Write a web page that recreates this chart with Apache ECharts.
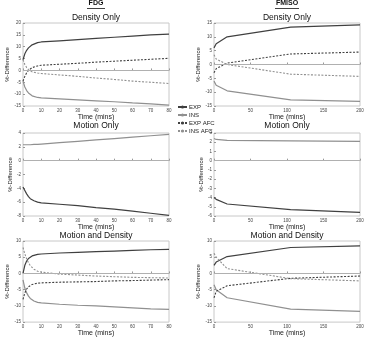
<!DOCTYPE html>
<html>
<head>
<meta charset="utf-8">
<script src="https://cdn.jsdelivr.net/npm/echarts@6/dist/echarts.min.js"></script>
<style>
  html, body { margin: 0; padding: 0; background: #fff; }
  #root { width: 367px; height: 338px; }
</style>
</head>
<body>
<div id="root"></div>
<script>
// time points
const fdgTime = [0, 1, 2, 3, 4, 5, 6, 8, 10, 20, 30, 40, 50, 60, 70, 80];
const fmisoTime = [0, 3, 18, 105, 200];

const legendNames = ['EXP', 'INS', 'EXP AFC', 'INS AFC'];
const panelTitles = ['Density Only', 'Motion Only', 'Motion and Density'];

// FDG - density only
const fdgDenExp = [4.5, 7, 8.5, 9.5, 10.3, 10.8, 11.2, 11.7, 12, 12.5, 13, 13.5, 14, 14.5, 15, 15.3];
const fdgDenIns = [-4.5, -7, -8.5, -9.5, -10.2, -10.7, -11, -11.4, -11.6, -12, -12.4, -12.8, -13.2, -13.7, -14.1, -14.6];
const fdgDenExpAfc = [-4.5, -2.5, -1, 0, 0.8, 1.2, 1.5, 1.9, 2.2, 2.6, 3.0, 3.5, 3.9, 4.3, 4.7, 5.1];
const fdgDenInsAfc = [4.5, 2.5, 1.2, 0.3, -0.3, -0.6, -0.8, -1.1, -1.3, -1.9, -2.5, -3.2, -3.8, -4.5, -5.0, -5.5];

// FDG - motion only
const fdgMotExp = [-3.8, -4.3, -4.8, -5.2, -5.5, -5.7, -5.8, -6.0, -6.1, -6.3, -6.5, -6.8, -7.0, -7.3, -7.6, -7.9];
const fdgMotIns = [2.3, 2.3, 2.3, 2.3, 2.3, 2.35, 2.35, 2.35, 2.4, 2.6, 2.8, 3.0, 3.2, 3.4, 3.6, 3.8];

// FDG - motion and density
const fdgBothExp = [0, 2.5, 3.8, 4.6, 5.1, 5.4, 5.6, 5.9, 6.0, 6.3, 6.5, 6.7, 6.9, 7.1, 7.3, 7.4];
const fdgBothIns = [-2, -4.5, -6, -7, -7.7, -8.2, -8.5, -8.9, -9.1, -9.5, -9.8, -10.0, -10.3, -10.6, -10.9, -11.1];
const fdgBothExpAfc = [-8, -6, -4.8, -4.1, -3.7, -3.4, -3.2, -3.0, -2.9, -2.7, -2.6, -2.5, -2.3, -2.2, -2.05, -1.9];
const fdgBothInsAfc = [8, 6, 4.5, 3.3, 2.4, 1.8, 1.3, 0.7, 0.4, -0.2, -0.5, -0.8, -1.0, -1.2, -1.3, -1.4];

// FMISO - density only
const fmDenExp = [6, 7.5, 10, 13.5, 14.3];
const fmDenIns = [-6, -7.5, -9.5, -12.8, -13.3];
const fmDenExpAfc = [-3, -1.5, 0.5, 3.8, 4.5];
const fmDenInsAfc = [3.5, 2, 0, -3.5, -4.3];

// FMISO - motion only
const fmMotExp = [-4.0, -4.2, -4.7, -5.3, -5.6];
const fmMotIns = [2.4, 2.3, 2.2, 2.15, 2.1];

// FMISO - motion and density
const fmBothExp = [2.5, 3.5, 5.2, 8, 8.5];
const fmBothIns = [-3.5, -5, -7.5, -11, -11.7];
const fmBothExpAfc = [-7.5, -5.5, -3.8, -1.5, -0.8];
const fmBothInsAfc = [6.2, 5, 1.5, -1.6, -2.3];

const yRanges = [
  [-15, 20, 5], [-15, 15, 5],
  [-8, 4, 2], [-6, 3, 1],
  [-15, 10, 5], [-15, 10, 5]
];

const EXP_COLOR = '#404040';
const INS_COLOR = '#909090';
const FONT = 'Liberation Sans, Arial, sans-serif';

let pair = (time, vals) => time.map((t, i) => [t, vals[i]]);

const panels = [
  { t: fdgTime, exp: fdgDenExp, ins: fdgDenIns, expAfc: fdgDenExpAfc, insAfc: fdgDenInsAfc },
  { t: fmisoTime, exp: fmDenExp, ins: fmDenIns, expAfc: fmDenExpAfc, insAfc: fmDenInsAfc },
  { t: fdgTime, exp: fdgMotExp, ins: fdgMotIns },
  { t: fmisoTime, exp: fmMotExp, ins: fmMotIns },
  { t: fdgTime, exp: fdgBothExp, ins: fdgBothIns, expAfc: fdgBothExpAfc, insAfc: fdgBothInsAfc },
  { t: fmisoTime, exp: fmBothExp, ins: fmBothIns, expAfc: fmBothExpAfc, insAfc: fmBothInsAfc }
];

const rowTops = [23, 133, 241];
const titleTops = [13, 121, 231];
const colLefts = [23, 214];

let grids = [], xAxes = [], yAxes = [], series = [], titles = [];

panels.forEach((p, i) => {
  let row = Math.floor(i / 2), col = i % 2;
  grids.push({
    left: colLefts[col], top: rowTops[row], width: 146, height: 83,
    show: true, borderColor: '#c8c8c8', borderWidth: 1
  });
  xAxes.push({
    type: 'value', gridIndex: i, min: 0, max: col === 0 ? 80 : 200, interval: col === 0 ? 10 : 50,
    name: 'Time (mins)', nameLocation: 'middle', nameGap: 7,
    nameTextStyle: { fontSize: 7, fontFamily: FONT, color: '#222' },
    axisLine: { show: false },
    axisTick: { show: true, inside: true, length: 2, lineStyle: { color: '#999' } },
    axisLabel: { fontSize: 4.5, margin: 2, color: '#444', fontFamily: FONT },
    splitLine: { show: false }
  });
  let yr = yRanges[i];
  yAxes.push({
    type: 'value', gridIndex: i, min: yr[0], max: yr[1], interval: yr[2],
    name: '%-Difference', nameLocation: 'middle', nameGap: 5,
    nameTextStyle: { fontSize: 6, fontFamily: FONT, color: '#222' },
    axisLine: { show: false },
    axisTick: { show: true, inside: true, length: 2, lineStyle: { color: '#999' } },
    axisLabel: { fontSize: 4.5, margin: 2, color: '#444', fontFamily: FONT },
    splitLine: { show: false }
  });
  titles.push({
    text: panelTitles[row], left: colLefts[col] + 73, top: titleTops[row], textAlign: 'center', padding: 0,
    textStyle: { fontSize: 8.5, fontWeight: 'normal', color: '#111', fontFamily: FONT }
  });

  let base = { type: 'line', xAxisIndex: i, yAxisIndex: i, showSymbol: false, symbol: 'none', smooth: false, animation: false };
  series.push(Object.assign({}, base, {
    name: 'EXP', data: pair(p.t, p.exp), color: EXP_COLOR,
    lineStyle: { color: EXP_COLOR, width: 1.2 },
    markLine: {
      silent: true, symbol: 'none', label: { show: false },
      lineStyle: { color: '#b0b0b0', width: 1, type: 'solid' },
      data: [{ yAxis: 0 }]
    }
  }));
  series.push(Object.assign({}, base, {
    name: 'INS', data: pair(p.t, p.ins), color: INS_COLOR,
    lineStyle: { color: INS_COLOR, width: 1.2 }
  }));
  if (p.expAfc) {
    series.push(Object.assign({}, base, {
      name: 'EXP AFC', data: pair(p.t, p.expAfc), color: EXP_COLOR,
      lineStyle: { color: EXP_COLOR, width: 1.1, type: [2, 1.5] }
    }));
    series.push(Object.assign({}, base, {
      name: 'INS AFC', data: pair(p.t, p.insAfc), color: INS_COLOR,
      lineStyle: { color: INS_COLOR, width: 1.1, type: [2, 1.5] }
    }));
  }
});

titles.push({
  text: 'FDG', left: 96, top: 0, textAlign: 'center', padding: 0,
  textStyle: { fontSize: 7, fontWeight: 'bold', color: '#111', fontFamily: FONT }
});
titles.push({
  text: 'FMISO', left: 287, top: 0, textAlign: 'center', padding: 0,
  textStyle: { fontSize: 7, fontWeight: 'bold', color: '#111', fontFamily: FONT }
});

let myChart = echarts.init(document.getElementById('root'));
myChart.setOption({
  animation: false,
  title: titles,
  grid: grids,
  xAxis: xAxes,
  yAxis: yAxes,
  legend: {
    data: legendNames, orient: 'vertical', left: 172, top: 99,
    itemWidth: 9, itemHeight: 4, itemGap: 2,
    textStyle: { fontSize: 6, color: '#222', fontFamily: FONT, padding: [0, 0, 0, -3] }
  },
  graphic: [
    { type: 'line', shape: { x1: 87, y1: 8.5, x2: 105, y2: 8.5 }, style: { stroke: '#111', lineWidth: 0.8 } },
    { type: 'line', shape: { x1: 275, y1: 8.5, x2: 299, y2: 8.5 }, style: { stroke: '#111', lineWidth: 0.8 } }
  ],
  series: series
});
</script>
</body>
</html>
